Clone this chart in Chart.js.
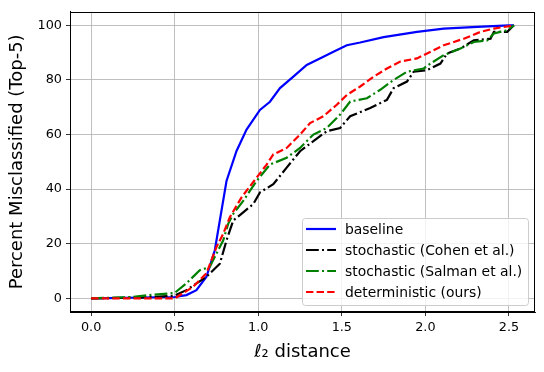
<!DOCTYPE html>
<html><head><meta charset="utf-8">
<script src="https://cdn.jsdelivr.net/npm/chart.js@4/dist/chart.umd.min.js"></script>
<style>html,body{margin:0;padding:0;background:#fff}#wrap{width:544px;height:372px}</style>
</head><body><div id="wrap"><canvas id="c" width="544" height="372"></canvas></div>
<script>
const baselineX = [0,0.5,0.57,0.63,0.69,0.74,0.77,0.81,0.87,0.93,1.01,1.07,1.13,1.21,1.29,1.39,1.45,1.53,1.61,1.75,1.95,2.11,2.31,2.5,2.53];
const baselineY = [0,0.5,1.2,3,7.9,17.6,28.5,43,54,61.8,69,72,77,81.2,85.5,88.5,90.3,92.7,93.7,95.7,97.6,98.8,99.4,100,100];
const cohenX = [0,0.3,0.5,0.57,0.69,0.77,0.81,0.85,0.91,0.97,1.01,1.09,1.17,1.25,1.33,1.41,1.49,1.55,1.67,1.77,1.81,1.89,1.93,2.01,2.09,2.13,2.21,2.29,2.39,2.41,2.49,2.53];
const cohenY = [0,0.3,1,3,7.9,12.7,21.2,28.5,31.5,34.5,38.8,41.8,47.9,53.9,57.6,61.2,62.4,66.7,69.7,72.7,77,79.4,83,83.6,86,89.7,91.5,94.5,95.1,97.6,97.6,100];
const salmanX = [0,0.25,0.35,0.5,0.57,0.65,0.71,0.75,0.79,0.82,0.85,0.91,0.99,1.07,1.17,1.25,1.33,1.41,1.49,1.55,1.65,1.73,1.81,1.89,1.99,2.03,2.11,2.21,2.29,2.37,2.41,2.49,2.53];
const salmanY = [0,0.5,1.2,2,5.5,10.3,11.5,16.4,21.2,27.3,30.9,35.7,43,49,51.5,55.1,60,62.4,67.3,72.1,73.3,76.4,80,83,84.2,86,89.1,91.5,93.9,94.5,97,98.2,100];
const detX = [0,0.5,0.61,0.69,0.75,0.79,0.83,0.9,0.99,1.05,1.09,1.17,1.25,1.31,1.39,1.47,1.53,1.61,1.69,1.77,1.85,1.95,2.01,2.11,2.23,2.33,2.41,2.53];
const detY = [0,0,4.2,9.2,18.8,23.6,29.7,37,44.2,49,52.7,55.1,60,64.2,66.7,70.9,74.5,77.6,81.2,84.2,86.7,87.9,89.7,92.7,95.1,97.6,98.8,100];
const seriesNames = ['baseline','stochastic (Cohen et al.)','stochastic (Salman et al.)','deterministic (ours)'];
const xTicks = [0,0.5,1.0,1.5,2.0,2.5];
const yTicks = [0,20,40,60,80,100];

const pts = (xs, ys) => xs.map((x,i)=>({x, y: ys[i]}));
const FONT = "'DejaVu Sans', sans-serif";
const styles = [
  {color:'#0000ff', dash:[]},
  {color:'#000000', dash:[12.8,3.2,2,3.2]},
  {color:'#008000', dash:[12.8,3.2,2,3.2]},
  {color:'#ff0000', dash:[7.4,3.2]}
];
const datas = [pts(baselineX,baselineY), pts(cohenX,cohenY), pts(salmanX,salmanY), pts(detX,detY)];

const framePlugin = {
  id:'frame',
  afterDatasetsDraw(chart){
    const ctx = chart.ctx, a = chart.chartArea;
    ctx.save();
    ctx.strokeStyle='#000'; ctx.lineWidth=1; ctx.setLineDash([]);
    ctx.strokeRect(Math.round(a.left)+0.5, Math.round(a.top)+0.5, Math.round(a.right-a.left)-1, Math.round(a.bottom-a.top)-1);
    const lx=302, ly=218, lw=226, lh=87;
    ctx.globalAlpha=0.8; ctx.fillStyle='#fff';
    ctx.beginPath(); ctx.roundRect(lx,ly,lw,lh,3); ctx.fill();
    ctx.globalAlpha=1; ctx.strokeStyle='#cccccc'; ctx.lineWidth=1;
    ctx.beginPath(); ctx.roundRect(lx+0.5,ly+0.5,lw,lh,3); ctx.stroke();
    const rows=[229,250,271,292];
    ctx.font = "13.9px " + FONT; ctx.textBaseline='middle'; ctx.fillStyle='#000';
    for(let i=0;i<4;i++){
      ctx.strokeStyle=styles[i].color; ctx.lineWidth=2.2; ctx.setLineDash(styles[i].dash);
      ctx.beginPath(); ctx.moveTo(306,rows[i]); ctx.lineTo(336,rows[i]); ctx.stroke();
      ctx.setLineDash([]);
      ctx.fillStyle='#000'; ctx.fillText(seriesNames[i], 345, rows[i]+1);
    }
    ctx.restore();
  }
};

new Chart(document.getElementById('c'), {
  type:'line',
  data:{ datasets: datas.map((d,i)=>({
    label: seriesNames[i], data:d, borderColor:styles[i].color, borderDash:styles[i].dash,
    borderWidth:2.2, pointRadius:0, fill:false, tension:0
  })).reverse() },
  options:{
    responsive:false, animation:false, devicePixelRatio:1,
    layout:{padding:{left:0, right:9, top:10, bottom:0}},
    plugins:{legend:{display:false}, tooltip:{enabled:false}},
    scales:{
      x:{ type:'linear', min:-0.1265, max:2.656,
        afterBuildTicks(s){ s.ticks = xTicks.map(v=>({value:v})); },
        afterFit(s){ s.height = 60; },
        grid:{color:'#b0b0b0', lineWidth:0.8, tickColor:'#000', tickLength:4, drawTicks:true},
        border:{color:'#000', width:1},
        ticks:{ color:'#000', font:{family:FONT, size:12.8}, padding:4, maxRotation:0,
          callback:(v)=>Number(v).toFixed(1) },
        title:{display:true, text:'ℓ₂ distance', color:'#000', font:{family:FONT, size:18}, padding:{top:0, bottom:9}}
      },
      y:{ type:'linear', min:-5, max:105,
        afterBuildTicks(s){ s.ticks = yTicks.map(v=>({value:v})); },
        afterFit(s){ s.width = 70; },
        grid:{color:'#b0b0b0', lineWidth:0.8, tickColor:'#000', tickLength:4, drawTicks:true},
        border:{color:'#000', width:1},
        ticks:{ color:'#000', font:{family:FONT, size:12.8}, padding:4,
          callback:(v)=>String(v) },
        title:{display:true, text:'Percent Misclassified (Top-5)', color:'#000', font:{family:FONT, size:18}, padding:{top:7, bottom:0}}
      }
    }
  },
  plugins:[framePlugin]
});
</script></body></html>
